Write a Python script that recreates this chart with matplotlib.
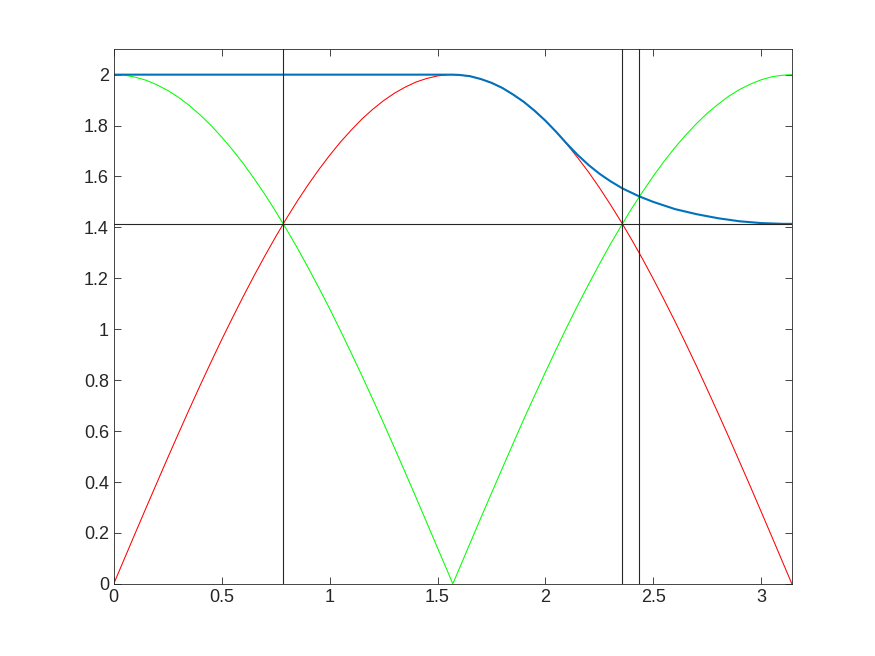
import matplotlib
matplotlib.use("Agg")
import matplotlib.pyplot as plt

# sample points
x = [0, 0.05, 0.1, 0.15, 0.2, 0.25, 0.3, 0.35, 0.4, 0.45, 0.5, 0.55, 0.6, 0.65,
     0.7, 0.75, 0.8, 0.85, 0.9, 0.95, 1.0, 1.05, 1.1, 1.15, 1.2, 1.25, 1.3, 1.35,
     1.4, 1.45, 1.5, 1.55, 1.5708, 1.6, 1.65, 1.7, 1.75, 1.8, 1.85, 1.9, 1.95,
     2.0, 2.05, 2.1, 2.15, 2.2, 2.25, 2.3, 2.35, 2.4, 2.45, 2.5, 2.55, 2.6, 2.65,
     2.7, 2.75, 2.8, 2.85, 2.9, 2.95, 3.0, 3.05, 3.1, 3.1416]
red = [0, 0.100, 0.200, 0.299, 0.397, 0.495, 0.591, 0.686, 0.779, 0.870, 0.959,
       1.045, 1.129, 1.210, 1.288, 1.363, 1.435, 1.503, 1.567, 1.627, 1.683, 1.735,
       1.782, 1.826, 1.864, 1.898, 1.927, 1.951, 1.971, 1.985, 1.995, 2.000, 2.000,
       1.999, 1.994, 1.983, 1.968, 1.948, 1.922, 1.893, 1.858, 1.819, 1.775, 1.726,
       1.673, 1.617, 1.556, 1.491, 1.423, 1.351, 1.276, 1.197, 1.115, 1.031, 0.944,
       0.855, 0.763, 0.670, 0.575, 0.478, 0.381, 0.282, 0.183, 0.083, 0]
green = [2.000, 1.998, 1.990, 1.978, 1.960, 1.938, 1.911, 1.879, 1.842, 1.801, 1.755,
         1.705, 1.651, 1.592, 1.530, 1.463, 1.393, 1.320, 1.243, 1.163, 1.081, 0.995,
         0.907, 0.817, 0.725, 0.631, 0.535, 0.438, 0.340, 0.241, 0.141, 0.042, 0,
         0.058, 0.158, 0.258, 0.356, 0.454, 0.551, 0.647, 0.740, 0.832, 0.922, 1.010,
         1.095, 1.177, 1.256, 1.333, 1.405, 1.475, 1.540, 1.602, 1.660, 1.714, 1.763,
         1.808, 1.849, 1.884, 1.916, 1.942, 1.963, 1.980, 1.992, 1.998, 2.000]

blue_x = [0, 1.5708, 1.6, 1.65, 1.7, 1.75, 1.8, 1.85, 1.9, 1.95, 2.0, 2.05, 2.1,
          2.15, 2.2, 2.25, 2.3, 2.357, 2.434, 2.5, 2.6, 2.7, 2.8, 2.9, 3.0, 3.1, 3.1416]
blue_y = [2.000, 2.000, 1.999, 1.994, 1.983, 1.968, 1.948, 1.922, 1.893, 1.858, 1.819,
          1.775, 1.728, 1.684, 1.645, 1.611, 1.582, 1.553, 1.522, 1.500, 1.472, 1.452,
          1.436, 1.424, 1.417, 1.414, 1.414]

vlines = [0.7854, 2.3562, 2.434]
hline = 1.4142

plt.rcParams['font.family'] = ['Liberation Sans', 'DejaVu Sans']
fig = plt.figure(figsize=(8.75, 6.56), dpi=100)
ax = fig.add_axes([0.13, 0.11, 0.775, 0.815])

ax.plot(x, red, color='#ff0000', lw=0.75)
ax.plot(x, green, color='#00ff00', lw=0.75)
ax.plot(blue_x, blue_y, color='#0072bd', lw=1.5)
for v in vlines:
    ax.axvline(v, color='#262626', lw=0.8)
ax.axhline(hline, color='#262626', lw=0.8)

ax.set_xlim(0, 3.1416)
ax.set_ylim(0, 2.1)
ax.set_xticks([0, 0.5, 1, 1.5, 2, 2.5, 3])
ax.set_xticklabels(['0', '0.5', '1', '1.5', '2', '2.5', '3'])
ax.set_yticks([0, 0.2, 0.4, 0.6, 0.8, 1, 1.2, 1.4, 1.6, 1.8, 2])
ax.set_yticklabels(['0', '0.2', '0.4', '0.6', '0.8', '1', '1.2', '1.4', '1.6', '1.8', '2'])
ax.tick_params(direction='in', top=True, right=True, length=5, width=0.6,
               labelsize=13, colors='#262626')
for s in ax.spines.values():
    s.set_color('#262626')
    s.set_linewidth(0.6)

plt.savefig('out.png', dpi=100)
